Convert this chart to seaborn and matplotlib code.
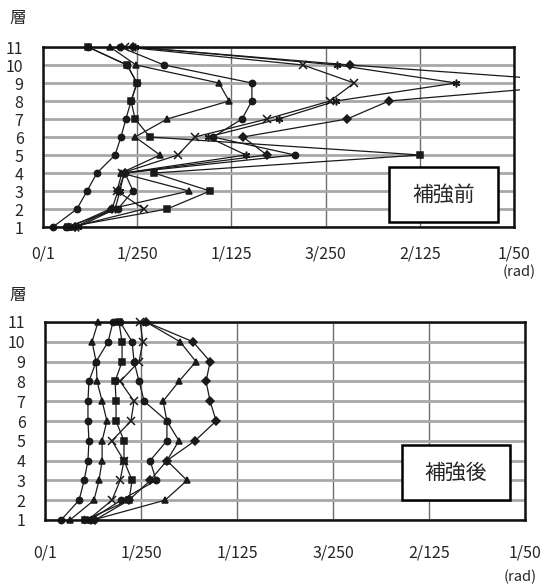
import matplotlib
matplotlib.use("Agg")
import matplotlib.pyplot as plt
import pandas as pd
import seaborn as sns
from matplotlib.patches import Rectangle
from matplotlib.transforms import Bbox, TransformedBbox

# floors 1..11
floors = list(range(1, 12))

# story drift angle (rad) before retrofit, one list per series (floor 1 -> 11)
before_circle_a = [0.00042, 0.00144, 0.00187, 0.00229, 0.00306, 0.00331, 0.00352, 0.00374, 0.00399, 0.00357, 0.00191]
before_diamond = [0.00136, 0.00293, 0.00318, 0.00348, 0.00951, 0.00849, 0.01291, 0.01469, 0.02365, 0.01304, 0.00382]
before_asterisk = [0.00149, 0.00306, 0.00327, 0.00344, 0.00862, 0.00700, 0.01000, 0.01244, 0.01754, 0.01248, 0.00391]
before_cross = [0.00123, 0.00429, 0.00314, 0.00335, 0.00573, 0.00645, 0.00951, 0.01219, 0.01321, 0.01104, 0.00348]
before_square = [0.00106, 0.00527, 0.00709, 0.00471, 0.01601, 0.00454, 0.00391, 0.00374, 0.00399, 0.00357, 0.00191]
before_triangle = [0.00115, 0.00285, 0.00620, 0.00331, 0.00497, 0.00391, 0.00527, 0.00790, 0.00747, 0.00395, 0.00285]
before_circle_b = [0.00098, 0.00318, 0.00382, 0.00348, 0.01070, 0.00722, 0.00845, 0.00887, 0.00887, 0.00514, 0.00327]

# story drift angle (rad) after retrofit
after_circle_a = [0.00067, 0.00142, 0.00163, 0.00179, 0.00183, 0.00179, 0.00179, 0.00183, 0.00213, 0.00263, 0.00283]
after_triangle_a = [0.00104, 0.00204, 0.00225, 0.00238, 0.00238, 0.00258, 0.00238, 0.00217, 0.00213, 0.00196, 0.00221]
after_square = [0.00167, 0.00350, 0.00363, 0.00329, 0.00329, 0.00296, 0.00296, 0.00292, 0.00321, 0.00321, 0.00308]
after_cross = [0.00179, 0.00279, 0.00313, 0.00329, 0.00279, 0.00358, 0.00371, 0.00313, 0.00392, 0.00408, 0.00396]
after_circle_b = [0.00188, 0.00317, 0.00463, 0.00438, 0.00508, 0.00508, 0.00413, 0.00392, 0.00371, 0.00363, 0.00313]
after_triangle_b = [0.00200, 0.00500, 0.00592, 0.00508, 0.00558, 0.00508, 0.00492, 0.00558, 0.00629, 0.00563, 0.00421]
after_diamond = [0.00208, 0.00350, 0.00438, 0.00508, 0.00625, 0.00713, 0.00688, 0.00671, 0.00688, 0.00617, 0.00421]

x_ticks = [0, 0.004, 0.008, 0.012, 0.016, 0.02]
x_tick_labels = ["0/1", "1/250", "1/125", "3/250", "2/125", "1/50"]

before_series = [
    (before_circle_a, "o"), (before_diamond, "D"), (before_asterisk, (6, 2, 0)),
    (before_cross, "x"), (before_square, "s"), (before_triangle, "^"),
    (before_circle_b, "o"),
]
after_series = [
    (after_circle_a, "o"), (after_triangle_a, "^"), (after_square, "s"),
    (after_cross, "x"), (after_circle_b, "o"), (after_triangle_b, "^"),
    (after_diamond, "D"),
]

sns.set_style("white")
plt.rcParams["font.family"] = ["Noto Sans CJK JP", "DejaVu Sans"]

fig = plt.figure(figsize=(5.43, 5.87), dpi=100)
ax_top = fig.add_axes([43 / 543, 1 - 227 / 587, 471 / 543, 180 / 587])
ax_bot = fig.add_axes([45 / 543, 1 - 520 / 587, 480 / 543, 198 / 587])


def draw_panel(ax, series, label, box, xpad):
    for vals, marker in series:
        df = pd.DataFrame({"drift": vals, "floor": floors})
        ms = 5.5 if marker in ("x",) or isinstance(marker, tuple) else 4.5
        sns.lineplot(data=df, x="drift", y="floor", ax=ax, sort=False, orient="y",
                     estimator=None, color="#1a1a1a", lw=0.9, marker=marker,
                     markersize=ms, markeredgecolor="#1a1a1a", markeredgewidth=1.1)
    clip = TransformedBbox(Bbox([[-0.03, -0.05], [1.012, 1.05]]), ax.transAxes)
    for line in ax.lines:
        line.set_clip_box(clip)

    ax.set_xlim(0, 0.02)
    ax.set_ylim(1, 11)
    ax.set_xticks(x_ticks)
    ax.set_xticklabels(x_tick_labels)
    ax.set_yticks(floors)
    ax.set_xlabel("")
    ax.set_ylabel("")
    ax.tick_params(axis="x", length=0, pad=xpad, labelsize=11.5)
    ax.tick_params(axis="y", length=0, pad=14, labelsize=11.5)
    ax.yaxis.grid(True, color="#a8a8a8", lw=2.0, zorder=0)
    ax.xaxis.grid(True, color="#6e6e6e", lw=1.0, zorder=0)
    ax.set_axisbelow(True)
    for sp in ax.spines.values():
        sp.set_visible(True)
        sp.set_color("#111111")
        sp.set_linewidth(1.8)

    x0, y0, x1, y1 = box
    ax.add_patch(Rectangle((x0, y0), x1 - x0, y1 - y0, transform=ax.transAxes,
                           facecolor="white", edgecolor="black", lw=1.8, zorder=10))
    ax.text((x0 + x1) / 2, (y0 + y1) / 2, label, transform=ax.transAxes,
            ha="center", va="center", fontsize=15, zorder=11)


draw_panel(ax_top, before_series, "補強前", (0.735, 0.028, 0.966, 0.333), 13)
draw_panel(ax_bot, after_series, "補強後", (0.744, 0.101, 0.969, 0.379), 18)

fig.text(18 / 543, 1 - 18 / 587, "層", ha="center", va="center", fontsize=12)
fig.text(18 / 543, 1 - 296 / 587, "層", ha="center", va="center", fontsize=12)
fig.text(536 / 543, 1 - 272 / 587, "(rad)", ha="right", va="center", fontsize=10.5)
fig.text(537 / 543, 1 - 577 / 587, "(rad)", ha="right", va="center", fontsize=10.5)

fig.savefig("out.png", dpi=100)
